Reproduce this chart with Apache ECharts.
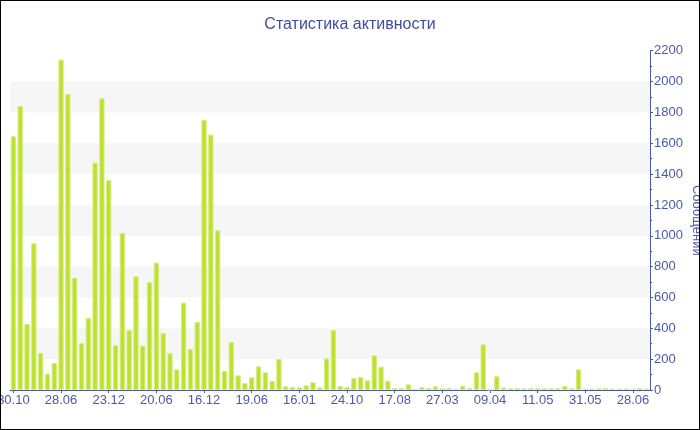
<!DOCTYPE html>
<html>
<head>
<meta charset="utf-8">
<script src="https://cdn.jsdelivr.net/npm/echarts@6/dist/echarts.min.js"></script>
<style>
  html, body { margin: 0; padding: 0; background: #fff; }
  #wrap { position: relative; width: 700px; height: 430px; }
  #chart { position: absolute; left: 0; top: 0; width: 700px; height: 430px; }
  #frame { position: absolute; left: 0; top: 0; width: 700px; height: 430px; box-sizing: border-box; border: 1px solid #000; pointer-events: none; }
</style>
</head>
<body>
<div id="wrap"><div id="chart"></div><div id="frame"></div></div>
<script>
const titleText = 'Статистика активности';
const yAxisName = 'Сообщений';
const tickLabels = ['30.10', '28.06', '23.12', '20.06', '16.12', '19.06', '16.01', '24.10', '17.08', '27.03', '09.04', '11.05', '31.05', '28.06'];
const labelStep = 7;
const messages = [
  1645, 1841, 428, 951, 240, 106, 175,
  2142, 1919, 728, 305, 467, 1474, 1891,
  1362, 290, 1018, 389, 737, 287, 700,
  826, 370, 238, 134, 566, 266, 441,
  1751, 1656, 1035, 123, 311, 95, 45,
  82, 153, 115, 58, 201, 24, 19,
  17, 30, 50, 17, 205, 389, 26,
  19, 78, 84, 63, 225, 151, 60,
  13, 13, 37, 6, 19, 13, 24,
  11, 13, 6, 26, 13, 115, 296,
  3, 89, 17, 11, 13, 11, 13,
  11, 11, 11, 11, 26, 11, 134,
  9, 9, 11, 13, 9, 9, 9,
  9, 13, 9
];
const categories = messages.map((v, i) => (i % labelStep === 0 ? (tickLabels[i / labelStep] || '') : ''));

const blue = '#4a5aa6';
const font = 'Liberation Sans, Arial, sans-serif';

const chart = echarts.init(document.getElementById('chart'), null, { renderer: 'canvas' });
chart.setOption({
  animation: false,
  backgroundColor: '#fff',
  title: {
    text: titleText,
    left: 'center',
    top: 17,
    padding: 0,
    textStyle: { color: '#3e4e9e', fontSize: 16, fontWeight: 'normal', fontFamily: font }
  },
  grid: { left: 10, right: 50, top: 50.7, bottom: 40, containLabel: false, outerBoundsMode: 'none' },
  xAxis: {
    type: 'category',
    data: categories,
    boundaryGap: true,
    axisLine: { show: true, lineStyle: { color: blue, width: 1 } },
    axisTick: { show: true, alignWithLabel: true, interval: labelStep - 1, length: 3, lineStyle: { color: blue } },
    axisLabel: { interval: labelStep - 1, margin: 4, color: blue, fontSize: 13, fontFamily: font, hideOverlap: false },
    splitLine: { show: false }
  },
  yAxis: {
    type: 'value',
    position: 'right',
    min: 0,
    max: 2200,
    interval: 200,
    name: yAxisName,
    nameLocation: 'middle',
    nameRotate: -90,
    nameGap: 47,
    nameMoveOverlap: false,
    nameTextStyle: { color: blue, fontSize: 13, fontFamily: font, align: 'center', verticalAlign: 'middle' },
    axisLine: { show: true, lineStyle: { color: blue, width: 1 } },
    axisTick: { show: true, length: 3, lineStyle: { color: blue } },
    minorTick: { show: true, splitNumber: 2, length: 2, lineStyle: { color: blue } },
    axisLabel: { margin: 4, color: blue, fontSize: 13, fontFamily: font, formatter: (v) => String(v) },
    splitLine: { show: false },
    splitArea: { show: true, areaStyle: { color: ['rgba(255,255,255,0)', '#f6f6f6'] } }
  },
  series: [{
    type: 'bar',
    data: messages,
    barCategoryGap: '22%',
    itemStyle: { color: '#bde12f', borderColor: '#d6ed80', borderWidth: 1 }
  }]
});
</script>
</body>
</html>
